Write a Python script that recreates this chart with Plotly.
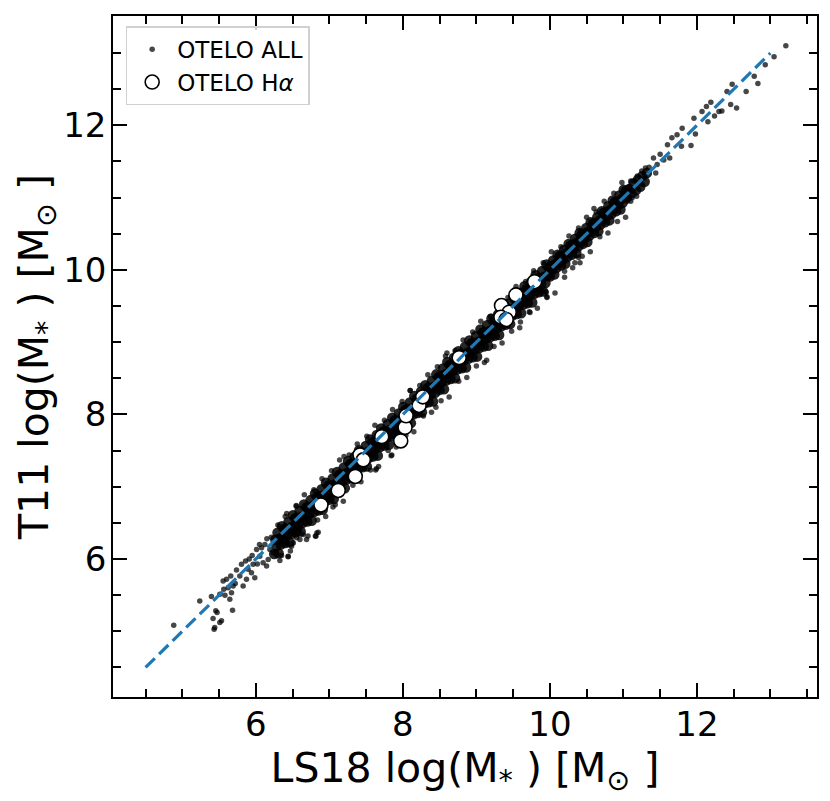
import plotly.graph_objects as go

# OTELO ALL - sparse low-mass end
low_x = [4.883, 5.237, 5.396, 5.418, 5.432, 5.441, 5.455, 5.473, 5.510, 5.510,
         5.533, 5.555, 5.564, 5.601, 5.623, 5.646, 5.659, 5.669, 5.683, 5.691,
         5.737, 5.782, 5.805, 5.827, 5.860, 5.873, 5.895, 5.941, 5.950, 5.963,
         5.986, 6.010, 6.050, 6.054, 6.078, 6.099, 6.123, 6.146, 6.150, 6.168,
         6.191, 6.236, 6.282, 6.327, 6.372, 6.418, 6.440, 6.486, 6.508, 6.554,
         6.599, 6.644, 6.690, 6.817, 6.849, 5.580, 5.720, 5.910, 6.020, 6.210]
low_y = [5.085, 5.420, 5.481, 5.178, 5.030, 5.053, 5.283, 5.260, 5.123, 5.512,
         5.145, 5.696, 5.581, 5.719, 5.604, 5.443, 5.765, 5.535, 5.292, 5.627,
         5.847, 5.765, 5.926, 5.627, 5.971, 5.719, 5.857, 5.811, 6.050, 5.926,
         5.742, 6.132, 6.200, 6.040, 6.156, 5.949, 6.201, 5.902, 6.280, 5.994,
         6.132, 6.087, 6.270, 5.981, 6.316, 6.224, 6.032, 6.178, 6.362, 6.293,
         6.408, 6.339, 6.270, 6.316, 6.371, 5.500, 5.660, 6.000, 5.930, 6.300]

# OTELO ALL - dense band, lower part
band_a_x = [6.250, 6.265, 6.280, 6.295, 6.310, 6.325, 6.340, 6.355, 6.370, 6.385,
            6.400, 6.415, 6.430, 6.445, 6.460, 6.475, 6.490, 6.505, 6.520, 6.535,
            6.550, 6.565, 6.580, 6.595, 6.610, 6.625, 6.640, 6.655, 6.670, 6.685,
            6.700, 6.715, 6.730, 6.745, 6.760, 6.775, 6.790, 6.805, 6.820, 6.835,
            6.850, 6.865, 6.880, 6.895, 6.910, 6.925, 6.940, 6.955, 6.970, 6.985,
            7.000, 7.015, 7.030, 7.045, 7.060, 7.075, 7.090, 7.105, 7.120, 7.135,
            7.150, 7.165, 7.180, 7.195, 7.210, 7.225, 7.240, 7.255, 7.270, 7.285,
            7.300, 7.315, 7.330, 7.345, 7.360, 7.375, 7.390, 7.405, 7.420, 7.435,
            7.450, 7.465, 7.480, 7.495, 7.510, 7.525, 7.540, 7.555, 7.570, 7.585,
            7.600, 7.615, 7.630, 7.645, 7.660, 7.675, 7.690, 7.705, 7.720, 7.735,
            7.750, 7.765, 7.780, 7.795, 7.810, 7.825, 7.840, 7.855, 7.870, 7.885,
            7.900, 7.915, 7.930, 7.945, 7.960, 7.975, 7.990, 8.005, 8.020, 8.035,
            8.050, 8.065, 8.080, 8.095, 8.110, 8.125, 8.140, 8.155, 8.170, 8.185,
            8.200, 8.215, 8.230, 8.245, 8.260, 8.275, 8.290, 8.305, 8.320, 8.335,
            8.350, 8.365, 8.380, 8.395, 8.410, 8.425, 8.440, 8.455, 8.470, 8.485]
band_a_y = [6.070, 6.265, 6.180, 6.365, 6.080, 6.285, 6.200, 6.455, 6.300, 6.415,
            6.220, 6.415, 6.330, 6.515, 6.230, 6.435, 6.350, 6.605, 6.450, 6.565,
            6.370, 6.565, 6.480, 6.665, 6.380, 6.585, 6.500, 6.755, 6.600, 6.715,
            6.520, 6.715, 6.630, 6.815, 6.530, 6.735, 6.650, 6.905, 6.750, 6.865,
            6.670, 6.865, 6.780, 6.965, 6.680, 6.885, 6.800, 7.055, 6.900, 7.015,
            6.820, 7.015, 6.930, 7.115, 6.830, 7.035, 6.950, 7.205, 7.050, 7.165,
            6.970, 7.165, 7.080, 7.265, 6.980, 7.185, 7.100, 7.355, 7.200, 7.315,
            7.120, 7.315, 7.230, 7.415, 7.130, 7.335, 7.250, 7.505, 7.350, 7.465,
            7.270, 7.465, 7.380, 7.565, 7.280, 7.485, 7.400, 7.655, 7.500, 7.615,
            7.420, 7.615, 7.530, 7.715, 7.430, 7.635, 7.550, 7.805, 7.650, 7.765,
            7.570, 7.765, 7.680, 7.865, 7.580, 7.785, 7.700, 7.955, 7.800, 7.915,
            7.720, 7.915, 7.830, 8.015, 7.730, 7.935, 7.850, 8.105, 7.950, 8.065,
            7.870, 8.065, 7.980, 8.165, 7.880, 8.085, 8.000, 8.255, 8.100, 8.215,
            8.020, 8.215, 8.130, 8.315, 8.030, 8.235, 8.150, 8.405, 8.250, 8.365,
            8.170, 8.365, 8.280, 8.465, 8.180, 8.385, 8.300, 8.555, 8.400, 8.515]

# OTELO ALL - dense band, middle part
band_b_x = [8.500, 8.515, 8.530, 8.545, 8.560, 8.575, 8.590, 8.605, 8.620, 8.635,
            8.650, 8.665, 8.680, 8.695, 8.710, 8.725, 8.740, 8.755, 8.770, 8.785,
            8.800, 8.815, 8.830, 8.845, 8.860, 8.875, 8.890, 8.905, 8.920, 8.935,
            8.950, 8.965, 8.980, 8.995, 9.010, 9.025, 9.040, 9.055, 9.070, 9.085,
            9.100, 9.115, 9.130, 9.145, 9.160, 9.175, 9.190, 9.205, 9.220, 9.235,
            9.250, 9.265, 9.280, 9.295, 9.310, 9.325, 9.340, 9.355, 9.370, 9.385,
            9.400, 9.415, 9.430, 9.445, 9.460, 9.475, 9.490, 9.505, 9.520, 9.535,
            9.550, 9.565, 9.580, 9.595, 9.610, 9.625, 9.640, 9.655, 9.670, 9.685,
            9.700, 9.715, 9.730, 9.745, 9.760, 9.775, 9.790, 9.805, 9.820, 9.835,
            9.850, 9.865, 9.880, 9.895, 9.910, 9.925, 9.940, 9.955, 9.970, 9.985]
band_b_y = [8.340, 8.535, 8.450, 8.635, 8.350, 8.555, 8.470, 8.725, 8.570, 8.685,
            8.490, 8.685, 8.600, 8.785, 8.500, 8.705, 8.620, 8.875, 8.720, 8.835,
            8.640, 8.835, 8.750, 8.935, 8.650, 8.855, 8.770, 9.025, 8.870, 8.985,
            8.790, 8.985, 8.900, 9.085, 8.800, 9.005, 8.920, 9.175, 9.020, 9.135,
            8.940, 9.135, 9.050, 9.235, 8.950, 9.155, 9.070, 9.325, 9.170, 9.285,
            9.090, 9.285, 9.200, 9.385, 9.100, 9.305, 9.220, 9.475, 9.320, 9.435,
            9.240, 9.435, 9.350, 9.535, 9.250, 9.455, 9.370, 9.625, 9.470, 9.585,
            9.390, 9.585, 9.500, 9.685, 9.400, 9.605, 9.520, 9.775, 9.620, 9.735,
            9.540, 9.735, 9.650, 9.835, 9.550, 9.755, 9.670, 9.925, 9.770, 9.885,
            9.690, 9.885, 9.800, 9.985, 9.700, 9.905, 9.820, 10.075, 9.920, 10.035]

# OTELO ALL - dense band, upper part (narrower)
band_c_x = [10.000, 10.015, 10.030, 10.045, 10.060, 10.075, 10.090, 10.105, 10.120, 10.135,
            10.150, 10.165, 10.180, 10.195, 10.210, 10.225, 10.240, 10.255, 10.270, 10.285,
            10.300, 10.315, 10.330, 10.345, 10.360, 10.375, 10.390, 10.405, 10.420, 10.435,
            10.450, 10.465, 10.480, 10.495, 10.510, 10.525, 10.540, 10.555, 10.570, 10.585,
            10.600, 10.615, 10.630, 10.645, 10.660, 10.675, 10.690, 10.705, 10.720, 10.735,
            10.750, 10.765, 10.780, 10.795, 10.810, 10.825, 10.840, 10.855, 10.870, 10.885,
            10.900, 10.915, 10.930, 10.945, 10.960, 10.975, 10.990, 11.005, 11.020, 11.035,
            11.050, 11.080, 11.110, 11.140, 11.170, 11.200, 11.230, 11.260, 11.290, 11.320]
band_c_y = [9.910, 10.050, 9.995, 10.130, 9.935, 10.082, 10.027, 10.210, 10.106, 10.191,
            10.060, 10.200, 10.145, 10.280, 10.085, 10.232, 10.177, 10.360, 10.256, 10.341,
            10.210, 10.350, 10.295, 10.430, 10.235, 10.382, 10.327, 10.510, 10.406, 10.491,
            10.360, 10.500, 10.445, 10.580, 10.385, 10.532, 10.477, 10.660, 10.556, 10.641,
            10.510, 10.650, 10.595, 10.730, 10.535, 10.682, 10.627, 10.810, 10.706, 10.791,
            10.660, 10.800, 10.745, 10.880, 10.685, 10.832, 10.777, 10.960, 10.856, 10.941,
            10.810, 10.950, 10.895, 11.030, 10.835, 10.982, 10.927, 11.110, 11.006, 11.091,
            11.000, 11.120, 11.060, 11.200, 11.100, 11.250, 11.150, 11.300, 11.220, 11.340]

# OTELO ALL - fuzzy fringe above and below the band
fringe_up_x = [6.30, 6.42, 6.55, 6.66, 6.79, 6.90, 7.03, 7.14, 7.27, 7.38,
               7.51, 7.62, 7.75, 7.86, 7.99, 8.10, 8.23, 8.34, 8.47, 8.58,
               8.71, 8.82, 8.95, 9.06, 9.19, 9.30, 9.43, 9.54, 9.67, 9.78,
               9.91, 10.02, 10.15, 10.26, 10.39, 10.50, 10.63, 10.74, 10.87, 10.98]
fringe_up_y = [6.47, 6.63, 6.74, 6.89, 6.96, 7.11, 7.22, 7.37, 7.44, 7.59,
               7.70, 7.85, 7.92, 8.07, 8.18, 8.33, 8.40, 8.55, 8.66, 8.81,
               8.88, 9.03, 9.14, 9.29, 9.36, 9.51, 9.62, 9.77, 9.84, 9.99,
               10.10, 10.25, 10.32, 10.47, 10.58, 10.73, 10.80, 10.95, 11.06, 11.21]
fringe_dn_x = [6.35, 6.47, 6.60, 6.71, 6.84, 6.95, 7.08, 7.19, 7.32, 7.43,
               7.56, 7.67, 7.80, 7.91, 8.04, 8.15, 8.28, 8.39, 8.52, 8.63,
               8.76, 8.87, 9.00, 9.11, 9.24, 9.35, 9.48, 9.59, 9.72, 9.83,
               9.96, 10.07, 10.20, 10.31, 10.44, 10.55, 10.68, 10.79, 10.92, 11.03]
fringe_dn_y = [6.05, 6.11, 6.27, 6.32, 6.54, 6.59, 6.75, 6.80, 7.02, 7.07,
               7.23, 7.28, 7.50, 7.55, 7.71, 7.76, 7.98, 8.03, 8.19, 8.24,
               8.46, 8.51, 8.67, 8.72, 8.94, 8.99, 9.15, 9.20, 9.42, 9.47,
               9.63, 9.68, 9.98, 10.03, 10.19, 10.25, 10.46, 10.51, 10.67, 10.73]

# OTELO ALL - scattered points off the band
off_x = [6.830, 6.810, 6.510, 6.440, 6.550, 6.400, 7.630, 7.850, 7.640, 7.840,
         9.140, 9.950, 10.390, 10.410, 10.340, 9.960, 9.730, 9.910, 11.100, 7.200,
         8.100, 8.600, 9.300, 10.600, 7.050, 8.450, 9.600, 10.200]
off_y = [6.360, 6.320, 6.220, 6.040, 6.730, 6.590, 7.230, 7.440, 7.250, 7.430,
         8.750, 9.690, 10.170, 10.100, 10.100, 9.620, 9.410, 9.710, 10.950, 7.420,
         8.330, 8.850, 9.550, 10.850, 6.720, 8.100, 9.280, 9.900]

# OTELO ALL - sparse high-mass end
high_x = [11.050, 11.080, 11.120, 11.150, 11.180, 11.210, 11.100, 11.190, 11.250, 11.250,
          11.300, 11.410, 11.440, 11.460, 11.500, 11.600, 11.630, 11.660, 11.730, 11.790,
          11.800, 11.920, 11.960, 11.980, 12.070, 12.130, 12.150, 12.190, 12.240, 12.300,
          12.340, 12.410, 12.460, 12.480, 12.540, 12.670, 12.780, 12.830, 12.930, 13.050,
          13.210, 11.350, 11.550, 11.020, 11.120]
high_y = [10.950, 11.150, 11.080, 11.230, 11.020, 11.200, 11.230, 11.300, 11.370, 11.180,
          11.410, 11.550, 11.340, 11.460, 11.600, 11.730, 11.550, 11.830, 11.870, 11.710,
          11.960, 11.720, 12.100, 11.880, 12.190, 12.260, 12.050, 12.320, 12.130, 12.190,
          12.200, 12.470, 12.290, 12.570, 12.240, 12.470, 12.680, 12.580, 12.840, 12.950,
          13.100, 11.420, 11.520, 11.060, 11.000]

# OTELO H-alpha subsample
ha_x = [6.886, 7.121, 7.353, 7.417, 7.462, 7.713, 7.971, 8.030, 8.044, 8.221,
        8.271, 8.766, 9.342, 9.447, 9.334, 9.406, 9.538, 9.792]
ha_y = [6.748, 6.949, 7.142, 7.441, 7.372, 7.693, 7.634, 7.822, 7.982, 8.125,
        8.244, 8.786, 9.507, 9.415, 9.346, 9.314, 9.654, 9.837]

# one-to-one line
line_x = [4.5, 13.0]
line_y = [4.5, 13.0]

sparse_x = low_x + fringe_up_x + fringe_dn_x + off_x + high_x
sparse_y = low_y + fringe_up_y + fringe_dn_y + off_y + high_y
core_x = band_a_x + band_b_x + band_c_x
core_y = band_a_y + band_b_y + band_c_y

font_family = "DejaVu Sans"
dot_color = "rgba(0,0,0,0.72)"

fig = go.Figure()

# dense core of the cloud: overlapping dots read as a solid band
fig.add_trace(
    go.Scatter(
        x=core_x,
        y=core_y,
        mode="markers",
        name="OTELO ALL",
        legendgroup="all",
        showlegend=False,
        marker=dict(color="rgba(0,0,0,0.85)", size=10.5, line=dict(width=0)),
    )
)

fig.add_trace(
    go.Scatter(
        x=sparse_x,
        y=sparse_y,
        mode="markers",
        name="OTELO ALL",
        legendgroup="all",
        marker=dict(color=dot_color, size=5.5, line=dict(width=0)),
    )
)

fig.add_trace(
    go.Scatter(
        x=ha_x,
        y=ha_y,
        mode="markers",
        name="OTELO H<i>α</i>",
        marker=dict(color="white", size=14, line=dict(color="black", width=1.6)),
    )
)

fig.add_trace(
    go.Scatter(
        x=line_x,
        y=line_y,
        mode="lines",
        showlegend=False,
        line=dict(color="#1f77b4", width=3.2, dash="13px,6px"),
    )
)

axis_common = dict(
    showline=True,
    linecolor="black",
    linewidth=1.5,
    mirror="ticks",
    ticks="inside",
    ticklen=14,
    tickwidth=1.5,
    tickcolor="black",
    tick0=0,
    dtick=2,
    showgrid=False,
    zeroline=False,
    tickfont=dict(family=font_family, size=34, color="black"),
    minor=dict(ticks="inside", ticklen=8, tickwidth=1.5, tickcolor="black", dtick=0.5, showgrid=False),
)

fig.update_xaxes(
    range=[4.057, 13.634],
    ticklabelstandoff=-4,
    title=dict(
        text="LS18 log(M<sub>*</sub> ) [M<sub>⊙</sub> ]",
        font=dict(family=font_family, size=41, color="black"),
        standoff=0,
    ),
    **axis_common,
)
fig.update_yaxes(
    range=[4.091, 13.513],
    ticklabelstandoff=-2,
    title=dict(
        text="T11 log(M<sub>*</sub> ) [M<sub>⊙</sub> ]",
        font=dict(family=font_family, size=41, color="black"),
        standoff=2,
    ),
    **axis_common,
)

# page body adds an 8px margin, so the figure is 8px smaller than the window
fig.update_layout(
    width=822,
    height=793,
    margin=dict(l=105, r=13, t=6, b=104),
    paper_bgcolor="white",
    plot_bgcolor="white",
    font=dict(family=font_family, color="black"),
    legend=dict(
        x=0.018,
        y=0.985,
        xanchor="left",
        yanchor="top",
        bgcolor="rgba(255,255,255,0.8)",
        bordercolor="#d0d0d0",
        borderwidth=1.5,
        itemwidth=40,
        font=dict(family=font_family, size=23, color="black"),
        tracegroupgap=0,
    ),
)

fig.write_html("out.html")
